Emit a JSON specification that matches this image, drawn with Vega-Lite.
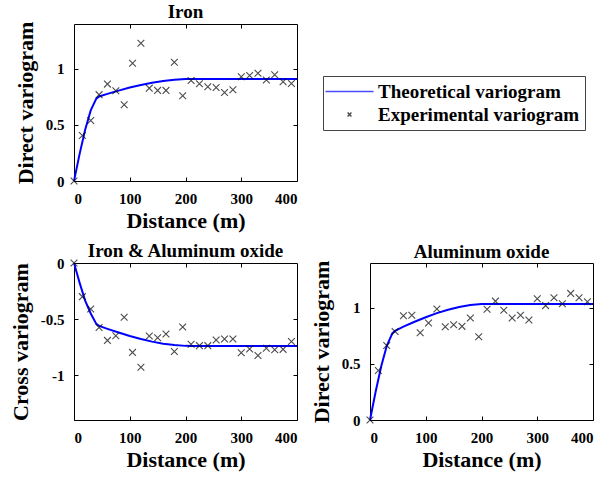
{
  "$schema": "https://vega.github.io/schema/vega-lite/v6.json",
  "padding": {"left": 8, "top": 2, "right": 5, "bottom": 5},
  "datasets": {
    "iron_theory": [
      {"d": 0, "v": 0, "series": "Theoretical variogram"},
      {"d": 10, "v": 0.240, "series": "Theoretical variogram"},
      {"d": 20, "v": 0.457, "series": "Theoretical variogram"},
      {"d": 30, "v": 0.630, "series": "Theoretical variogram"},
      {"d": 40, "v": 0.734, "series": "Theoretical variogram"},
      {"d": 45, "v": 0.754, "series": "Theoretical variogram"},
      {"d": 60, "v": 0.777, "series": "Theoretical variogram"},
      {"d": 80, "v": 0.806, "series": "Theoretical variogram"},
      {"d": 100, "v": 0.833, "series": "Theoretical variogram"},
      {"d": 120, "v": 0.856, "series": "Theoretical variogram"},
      {"d": 140, "v": 0.876, "series": "Theoretical variogram"},
      {"d": 160, "v": 0.892, "series": "Theoretical variogram"},
      {"d": 180, "v": 0.903, "series": "Theoretical variogram"},
      {"d": 200, "v": 0.909, "series": "Theoretical variogram"},
      {"d": 210, "v": 0.910, "series": "Theoretical variogram"},
      {"d": 400, "v": 0.910, "series": "Theoretical variogram"}
    ],
    "iron_exp": [
      {"d": 0, "v": 0, "series": "Experimental variogram"},
      {"d": 15, "v": 0.405, "series": "Experimental variogram"},
      {"d": 30, "v": 0.54, "series": "Experimental variogram"},
      {"d": 45, "v": 0.77, "series": "Experimental variogram"},
      {"d": 60, "v": 0.864, "series": "Experimental variogram"},
      {"d": 75, "v": 0.805, "series": "Experimental variogram"},
      {"d": 90, "v": 0.68, "series": "Experimental variogram"},
      {"d": 105, "v": 1.05, "series": "Experimental variogram"},
      {"d": 120, "v": 1.228, "series": "Experimental variogram"},
      {"d": 135, "v": 0.828, "series": "Experimental variogram"},
      {"d": 150, "v": 0.808, "series": "Experimental variogram"},
      {"d": 165, "v": 0.808, "series": "Experimental variogram"},
      {"d": 180, "v": 1.059, "series": "Experimental variogram"},
      {"d": 195, "v": 0.76, "series": "Experimental variogram"},
      {"d": 210, "v": 0.896, "series": "Experimental variogram"},
      {"d": 225, "v": 0.867, "series": "Experimental variogram"},
      {"d": 240, "v": 0.84, "series": "Experimental variogram"},
      {"d": 255, "v": 0.834, "series": "Experimental variogram"},
      {"d": 270, "v": 0.79, "series": "Experimental variogram"},
      {"d": 285, "v": 0.814, "series": "Experimental variogram"},
      {"d": 300, "v": 0.929, "series": "Experimental variogram"},
      {"d": 315, "v": 0.94, "series": "Experimental variogram"},
      {"d": 330, "v": 0.96, "series": "Experimental variogram"},
      {"d": 345, "v": 0.90, "series": "Experimental variogram"},
      {"d": 360, "v": 0.947, "series": "Experimental variogram"},
      {"d": 375, "v": 0.885, "series": "Experimental variogram"},
      {"d": 390, "v": 0.87, "series": "Experimental variogram"}
    ],
    "cross_theory": [
      {"d": 0, "v": 0}, {"d": 10, "v": -0.175}, {"d": 20, "v": -0.335}, {"d": 30, "v": -0.45},
      {"d": 40, "v": -0.543}, {"d": 45, "v": -0.561}, {"d": 60, "v": -0.587}, {"d": 80, "v": -0.620},
      {"d": 100, "v": -0.651}, {"d": 120, "v": -0.678}, {"d": 140, "v": -0.701}, {"d": 160, "v": -0.720},
      {"d": 180, "v": -0.732}, {"d": 200, "v": -0.739}, {"d": 210, "v": -0.74}, {"d": 400, "v": -0.74}
    ],
    "cross_exp": [
      {"d": 0, "v": 0}, {"d": 15, "v": -0.30}, {"d": 30, "v": -0.41}, {"d": 45, "v": -0.576},
      {"d": 60, "v": -0.69}, {"d": 75, "v": -0.648}, {"d": 90, "v": -0.484}, {"d": 105, "v": -0.797},
      {"d": 120, "v": -0.93}, {"d": 135, "v": -0.651}, {"d": 150, "v": -0.666}, {"d": 165, "v": -0.633},
      {"d": 180, "v": -0.79}, {"d": 195, "v": -0.57}, {"d": 210, "v": -0.725}, {"d": 225, "v": -0.737},
      {"d": 240, "v": -0.737}, {"d": 255, "v": -0.687}, {"d": 270, "v": -0.678}, {"d": 285, "v": -0.678},
      {"d": 300, "v": -0.80}, {"d": 315, "v": -0.767}, {"d": 330, "v": -0.824}, {"d": 345, "v": -0.76},
      {"d": 360, "v": -0.773}, {"d": 375, "v": -0.77}, {"d": 390, "v": -0.70}
    ],
    "al_theory": [
      {"d": 0, "v": 0}, {"d": 10, "v": 0.250}, {"d": 20, "v": 0.477}, {"d": 30, "v": 0.659},
      {"d": 40, "v": 0.772}, {"d": 45, "v": 0.796}, {"d": 60, "v": 0.832}, {"d": 80, "v": 0.876},
      {"d": 100, "v": 0.916}, {"d": 120, "v": 0.953}, {"d": 140, "v": 0.983}, {"d": 160, "v": 1.008},
      {"d": 180, "v": 1.025}, {"d": 200, "v": 1.034}, {"d": 210, "v": 1.035}, {"d": 400, "v": 1.035}
    ],
    "al_exp": [
      {"d": 0, "v": 0}, {"d": 15, "v": 0.441}, {"d": 30, "v": 0.664}, {"d": 45, "v": 0.79},
      {"d": 60, "v": 0.93}, {"d": 75, "v": 0.934}, {"d": 90, "v": 0.778}, {"d": 105, "v": 0.865},
      {"d": 120, "v": 0.99}, {"d": 135, "v": 0.832}, {"d": 150, "v": 0.85}, {"d": 165, "v": 0.835},
      {"d": 180, "v": 0.91}, {"d": 195, "v": 0.742}, {"d": 210, "v": 0.988}, {"d": 225, "v": 1.06},
      {"d": 240, "v": 0.979}, {"d": 255, "v": 0.91}, {"d": 270, "v": 0.934}, {"d": 285, "v": 0.892},
      {"d": 300, "v": 1.081}, {"d": 315, "v": 1.02}, {"d": 330, "v": 1.09}, {"d": 345, "v": 1.036},
      {"d": 360, "v": 1.129}, {"d": 375, "v": 1.09}, {"d": 390, "v": 1.054}
    ]
  },
  "bounds": "flush",
  "spacing": 82,
  "vconcat": [
    {
      "title": {"text": "Iron", "offset": -1},
      "width": 223,
      "height": 157,
      "resolve": {"axis": {"x": "independent", "y": "independent"}},
      "layer": [
        {
          "data": {"name": "iron_theory"},
          "mark": {"type": "line", "strokeWidth": 2},
          "encoding": {
            "x": {"field": "d", "type": "quantitative", "scale": {"domain": [0, 400]},
                  "axis": {"orient": "bottom", "title": "Distance (m)", "values": [0, 100, 200, 300, 400],
                           "labelFont": "Liberation Serif", "labelFontWeight": "bold"}},
            "y": {"field": "v", "type": "quantitative", "scale": {"domain": [0, 1.4]},
                  "axis": {"orient": "left", "title": "Direct variogram", "values": [0, 0.5, 1], "labelExpr": "toString(datum.value)",
                           "labelFont": "Liberation Serif", "labelFontWeight": "bold"}},
            "color": {"field": "series", "type": "nominal",
                      "scale": {"domain": ["Theoretical variogram", "Experimental variogram"], "range": ["#0000ff", "#000000"]},
                      "legend": {"orient": "none", "legendX": 249, "legendY": 52, "title": null,
                                 "labelFont": "Liberation Serif", "labelFontSize": 19, "labelFontWeight": "bold",
                                 "labelColor": "black", "labelLimit": 400, "strokeColor": "#444444", "fillColor": "white",
                                 "padding": 5, "symbolSize": 370, "labelOffset": 18, "symbolOffset": 11, "rowPadding": 2}}
          }
        },
        {
          "data": {"name": "iron_exp"},
          "mark": {"type": "point", "filled": false, "strokeWidth": 1.1, "size": 1150},
          "encoding": {
            "x": {"field": "d", "type": "quantitative", "axis": null},
            "y": {"field": "v", "type": "quantitative", "axis": null},
            "color": {"field": "series", "type": "nominal"},
            "shape": {"field": "series", "type": "nominal",
                      "scale": {"domain": ["Theoretical variogram", "Experimental variogram"],
                                "range": ["M-2.5,0H2.5", "M-0.2,-0.2L0.2,0.2M0.2,-0.2L-0.2,0.2"]}}
          }
        },
        {
          "data": {"name": "iron_exp"},
          "mark": {"type": "point", "opacity": 0},
          "encoding": {
            "x": {"field": "d", "type": "quantitative", "axis": {"orient": "top", "labels": false, "title": null, "values": [100, 200, 300]}},
            "y": {"field": "v", "type": "quantitative", "axis": {"orient": "right", "labels": false, "title": null, "values": [0.5, 1]}}
          }
        }
      ]
    },
    {
      "bounds": "flush",
      "spacing": 73,
      "hconcat": [
        {
          "title": {"text": "Iron & Aluminum oxide", "offset": -5},
          "width": 223,
          "height": 157,
          "resolve": {"axis": {"x": "independent", "y": "independent"}},
          "layer": [
            {
              "data": {"name": "cross_theory"},
              "mark": {"type": "line", "strokeWidth": 2, "color": "#0000ff"},
              "encoding": {
                "x": {"field": "d", "type": "quantitative", "scale": {"domain": [0, 400]},
                      "axis": {"orient": "bottom", "title": "Distance (m)", "values": [0, 100, 200, 300, 400],
                               "labelFont": "Liberation Serif", "labelFontWeight": "bold"}},
                "y": {"field": "v", "type": "quantitative", "scale": {"domain": [-1.4, 0]},
                      "axis": {"orient": "left", "title": "Cross variogram", "values": [-1, -0.5, 0], "labelExpr": "toString(datum.value)",
                               "labelFont": "Liberation Serif", "labelFontWeight": "bold"}}
              }
            },
            {
              "data": {"name": "cross_exp"},
              "mark": {"type": "point", "filled": false, "strokeWidth": 1.1, "size": 1150, "color": "black",
                       "shape": "M-0.2,-0.2L0.2,0.2M0.2,-0.2L-0.2,0.2"},
              "encoding": {
                "x": {"field": "d", "type": "quantitative", "axis": null},
                "y": {"field": "v", "type": "quantitative", "axis": null}
              }
            },
            {
              "data": {"name": "cross_exp"},
              "mark": {"type": "point", "opacity": 0},
              "encoding": {
                "x": {"field": "d", "type": "quantitative", "axis": {"orient": "top", "labels": false, "title": null, "values": [100, 200, 300]}},
                "y": {"field": "v", "type": "quantitative", "axis": {"orient": "right", "labels": false, "title": null, "values": [-1, -0.5]}}
              }
            }
          ]
        },
        {
          "title": {"text": "Aluminum oxide", "offset": -2},
          "width": 223,
          "height": 157,
          "resolve": {"axis": {"x": "independent", "y": "independent"}},
          "layer": [
            {
              "data": {"name": "al_theory"},
              "mark": {"type": "line", "strokeWidth": 2, "color": "#0000ff"},
              "encoding": {
                "x": {"field": "d", "type": "quantitative", "scale": {"domain": [0, 400]},
                      "axis": {"orient": "bottom", "title": "Distance (m)", "values": [0, 100, 200, 300, 400],
                               "labelFont": "Liberation Serif", "labelFontWeight": "bold"}},
                "y": {"field": "v", "type": "quantitative", "scale": {"domain": [0, 1.4]},
                      "axis": {"orient": "left", "title": "Direct variogram", "values": [0, 0.5, 1], "labelExpr": "toString(datum.value)",
                               "labelFont": "Liberation Serif", "labelFontWeight": "bold"}}
              }
            },
            {
              "data": {"name": "al_exp"},
              "mark": {"type": "point", "filled": false, "strokeWidth": 1.1, "size": 1150, "color": "black",
                       "shape": "M-0.2,-0.2L0.2,0.2M0.2,-0.2L-0.2,0.2"},
              "encoding": {
                "x": {"field": "d", "type": "quantitative", "axis": null},
                "y": {"field": "v", "type": "quantitative", "axis": null}
              }
            },
            {
              "data": {"name": "al_exp"},
              "mark": {"type": "point", "opacity": 0},
              "encoding": {
                "x": {"field": "d", "type": "quantitative", "axis": {"orient": "top", "labels": false, "title": null, "values": [100, 200, 300]}},
                "y": {"field": "v", "type": "quantitative", "axis": {"orient": "right", "labels": false, "title": null, "values": [0.5, 1]}}
              }
            }
          ]
        }
      ]
    }
  ],
  "config": {
    "font": "Liberation Serif",
    "style": {
      "guide-label": {"font": "Liberation Serif", "fontWeight": "bold", "fill": "black"},
      "guide-title": {"font": "Liberation Serif", "fontWeight": "bold", "fill": "black"},
      "group-title": {"font": "Liberation Serif", "fontWeight": "bold", "fill": "black"}
    },
    "view": {"stroke": "black", "strokeWidth": 1},
    "axis": {"domain": false, "grid": false, "ticks": true, "tickColor": "black", "tickSize": -4,
             "labelFont": "Liberation Serif", "labelFontSize": 15, "labelFontWeight": "bold", "labelColor": "black",
             "titleFont": "Liberation Serif", "titleFontSize": 22, "titleFontWeight": "bold", "titleColor": "black"},
    "axisX": {"labelPadding": 14, "titlePadding": 4},
    "axisY": {"labelPadding": 14, "titlePadding": 8},
    "legend": {"labelFont": "Liberation Serif", "labelFontWeight": "bold"},
    "title": {"font": "Liberation Serif", "fontSize": 19, "fontWeight": "bold", "color": "black"}
  }
}
